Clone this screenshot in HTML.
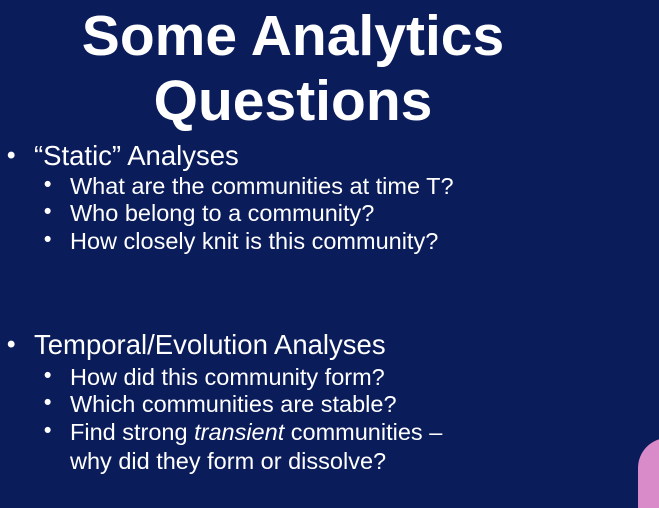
<!DOCTYPE html>
<html><head><meta charset="utf-8"><style>
body{margin:0;width:659px;height:488px;overflow:hidden;background:#0b1c5b;font-family:"Liberation Sans",sans-serif;color:#fff;position:relative}
.t{position:absolute;left:0;width:586px;text-align:center;font-weight:bold;font-size:57px;line-height:57px}
.l1,.l2{position:absolute;white-space:nowrap}
.l1{left:34px;font-size:27.5px;line-height:30px}
.l2{left:70px;font-size:23.5px;line-height:29px}
.b1,.b2{position:absolute;font-weight:bold}
.b1{left:7px;font-size:24px}
.b2{left:44px;font-size:21px}
</style></head><body>
<div class="t" style="top:8px">Some Analytics</div>
<div class="t" style="top:73px">Questions</div>

<div class="b1" style="top:142px">•</div>
<div class="l1" style="top:141px">“Static” Analyses</div>
<div class="b2" style="top:173px">•</div><div class="l2" style="top:172px">What are the communities at time T?</div>
<div class="b2" style="top:200px">•</div><div class="l2" style="top:199px">Who belong to a community?</div>
<div class="b2" style="top:228px">•</div><div class="l2" style="top:227px">How closely knit is this community?</div>

<div class="b1" style="top:331px">•</div>
<div class="l1" style="top:330px">Temporal/Evolution Analyses</div>
<div class="b2" style="top:364px">•</div><div class="l2" style="top:363px">How did this community form?</div>
<div class="b2" style="top:391px">•</div><div class="l2" style="top:390px">Which communities are stable?</div>
<div class="b2" style="top:419px">•</div><div class="l2" style="top:418px">Find strong <i>transient</i> communities –<br>why did they form or dissolve?</div>

<div style="position:absolute;left:638px;top:438px;width:40px;height:70px;background:#d98ac8;border-radius:30px 0 0 0"></div>
</body></html>
